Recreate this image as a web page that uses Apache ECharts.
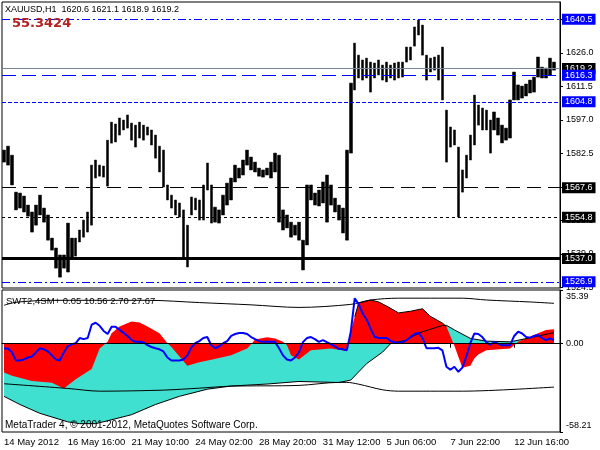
<!DOCTYPE html>
<html><head><meta charset="utf-8">
<script src="https://cdn.jsdelivr.net/npm/echarts@6/dist/echarts.min.js"></script>
<style>html,body{margin:0;padding:0;background:#fff}#c{width:600px;height:450px}</style>
</head><body><div id="c"></div>
<script>
// ---------- data ----------
const symbolName = 'XAUUSD,H1';
const lastOHLC = [1620.6, 1621.1, 1618.9, 1619.2];
const bigValue = '55.3424';
const indName = 'SWT2,4SM+';
const indParams = ['0.05', '10.56', '2.70', '27.67'];
const copyright = 'MetaTrader 4, \u00A9 2001-2012, MetaQuotes Software Corp.';
const timeLabels = ['14 May 2012', '16 May 16:00', '21 May 10:00', '24 May 02:00', '28 May 20:00',
  '31 May 12:00', '5 Jun 06:00', '7 Jun 22:00', '12 Jun 16:00'];
const barsPerLabel = 16;
const barCount = 140;
const priceTicks = [1524.5, 1539.0, 1553.5, 1568.0, 1582.5, 1597.0, 1611.5, 1626.0, 1640.5];
const bidPrice = 1619.2;
const levelValues = [1640.5, 1616.3, 1604.8, 1567.6, 1554.8, 1537.0, 1526.9];
const indTicks = [35.39, 0, -58.21];
const indTickLabels = ['35.39', '0.00', '-58.21'];

const highs = [
1583.9,1585.6,1581.7,1565.7,1565.3,1564.0,1560.1,1557.1,1560.1,1564.4,
1558.8,1555.8,1545.8,1541.5,1538.5,1538.5,1552.3,1545.8,1545.8,1549.3,
1553.6,1557.1,1577.4,1579.6,1577.4,1577.0,1588.2,1596.0,1595.2,1597.8,
1596.9,1599.1,1595.6,1594.7,1596.0,1594.7,1593.9,1592.6,1590.4,1585.6,
1583.9,1568.8,1564.4,1562.3,1561.0,1558.0,1551.4,1563.6,1563.1,1562.3,
1568.8,1578.3,1568.8,1559.2,1558.0,1564.4,1569.6,1571.8,1577.4,1576.1,
1579.6,1583.9,1580.9,1578.7,1576.1,1575.3,1576.1,1578.7,1582.6,1581.7,
1558.0,1555.8,1552.7,1551.4,1552.7,1544.9,1568.8,1568.8,1565.3,1566.6,
1570.1,1573.1,1568.8,1563.1,1560.1,1558.8,1583.9,1612.9,1630.2,1625.0,
1622.9,1623.7,1622.0,1621.6,1622.9,1620.7,1622.0,1620.7,1621.6,1622.0,
1622.0,1628.5,1628.5,1637.2,1640.2,1638.0,1625.0,1623.7,1624.2,1625.0,
1628.5,1601.2,1593.9,1592.6,1585.2,1575.3,1581.7,1590.4,1607.7,1603.4,
1602.1,1601.2,1596.9,1600.4,1597.8,1594.7,1593.4,1605.6,1617.7,1612.1,
1611.6,1612.5,1614.2,1615.5,1624.2,1619.8,1619.4,1623.7,1622.0];
const lows = [
1578.7,1577.4,1568.8,1558.0,1558.8,1557.1,1555.3,1548.4,1551.4,1555.8,
1552.7,1544.9,1540.6,1532.8,1528.9,1532.8,1531.1,1537.2,1538.0,1544.1,
1546.2,1548.4,1551.4,1571.8,1572.6,1572.2,1568.3,1586.9,1587.4,1590.4,
1592.6,1593.4,1588.2,1585.2,1589.1,1588.2,1590.4,1586.1,1580.4,1574.4,
1567.9,1562.3,1558.8,1555.8,1554.9,1537.6,1533.3,1555.8,1558.0,1553.6,
1553.6,1566.6,1552.3,1552.7,1552.3,1555.8,1560.1,1562.3,1570.1,1571.8,
1573.1,1577.4,1575.3,1574.4,1572.6,1572.2,1573.1,1571.8,1574.4,1552.7,
1549.3,1550.2,1546.2,1547.1,1544.9,1532.0,1542.8,1562.3,1560.1,1559.7,
1561.0,1552.7,1560.1,1557.1,1553.6,1548.0,1544.9,1582.6,1609.9,1615.1,
1614.2,1615.1,1609.0,1615.1,1616.4,1614.2,1613.4,1615.1,1614.2,1615.1,
1615.5,1622.0,1622.9,1628.9,1633.7,1625.0,1614.2,1617.7,1618.5,1614.2,
1605.6,1578.7,1585.2,1586.1,1554.9,1565.7,1571.8,1579.6,1586.1,1594.7,
1592.6,1592.6,1582.6,1592.6,1590.4,1587.0,1588.2,1589.1,1605.6,1605.6,
1606.4,1607.3,1608.6,1609.0,1615.5,1615.1,1615.1,1616.4,1618.5];

// indicator: [bar index, value]
const turquoiseVals = [[0,-34.7],[4,-40.1],[9,-45.9],[16,-51.5],[19,-52.7],[23,-52.7],[26,-50.8],
  [32,-46.8],[38,-40.1],[44,-34.7],[51,-30.0],[57,-27.9],[66,-26.6],[74,-24.9],[84,-25.6],[87,-24.0],
  [91,-13.1],[95,-5.5],[97,0],[101,2.4],[103,5.5],[105,7.9],[110,12.0],[111,12.1],[113,9.1],
  [117,3.5],[121,1.7],[127,1.2],[132,3.9],[138,7.3]];
const redVals = [[0,-19.0],[2,-21.2],[7,-24.6],[12,-25.7],[15,-29.5],[18,-23.4],[22,-16.7],[24,-3.2],
  [26,1.2],[27,6.9],[29,11.3],[32,14.7],[34,14.0],[36,11.3],[39,6.9],[41,0.3],[42,-2.2],[46,-14.5],
  [49,-12.3],[52,-10.6],[57,-7.7],[61,-3.2],[62,-0.3],[63,2.8],[66,4.2],[68,3.5],[70,1.2],[71,-1.0],
  [72,-7.7],[74,-10.4],[77,-4.4],[82,-3.2],[86,-4.8],[87,8.4],[88,17.8],[89,26.8],[92,28.8],[94,27.5],
  [96,24.8],[99,20.3],[102,21.4],[105,23.0],[107,18.0],[110,13.6],[111,11.3],[113,-1.3],[115,-15.8],
  [117,-14.5],[118,-9.8],[119,-7.1],[121,-4.4],[127,-3.2],[128,-1.0],[129,1.2],[132,4.6],[134,6.9],
  [136,9.1],[138,9.6]];
const upperBand = [[0,25.3],[3,27.3],[12,28.6],[24,28.6],[36,28.6],[49,27.1],[62,25.6],[74,23.9],
  [87,25.9],[92,28.8],[99,30.0],[115,30.0],[121,28.8],[132,27.5],[138,26.6]];
const lowerBand = [[0,-26.4],[16,-29.5],[24,-31.3],[40,-30.6],[49,-29.3],[57,-28.0],[74,-27.5],
  [84,-25.5],[86,-25.5],[89,-26.7],[95,-30.4],[99,-31.3],[115,-31.3],[138,-28.6]];
const blueVals = [
-3.2,-3.2,-5.7,-11.1,-11.1,-10.4,-9.1,-8.4,-5.7,-3.0,
-3.7,-5.1,-7.7,-10.4,-11.1,-5.7,-1.7,-0.3,0.3,3.7,
3.0,3.7,12.5,13.8,11.8,8.4,6.4,11.1,11.1,9.1,
7.1,5.1,2.4,1.2,1.2,1.0,-1.0,-2.2,-3.0,-3.7,
-5.1,-9.1,-11.1,-11.1,-11.1,-10.4,-7.7,-2.4,0.3,1.7,
3.7,4.4,-1.0,-3.0,-1.7,0.3,1.7,5.1,6.4,7.1,
7.1,6.4,4.4,3.0,1.7,1.2,1.2,1.2,1.2,-3.0,
-7.7,-10.4,-11.1,-9.1,-5.7,1.0,3.7,4.4,3.0,1.2,
2.4,1.0,-0.3,-1.7,-3.4,-3.7,-4.4,7.7,30.0,25.9,
19.9,15.8,9.8,4.4,3.7,3.7,3.7,1.7,1.0,0.7,
1.0,2.4,4.4,6.4,7.1,3.7,-3.0,-3.0,-3.0,-2.7,
-4.4,-15.2,-17.2,-15.2,-18.5,-15.8,-8.4,0.3,6.7,6.4,
4.4,1.0,-0.7,1.0,0,-1.0,-1.0,-1.0,5.1,7.9,
6.7,4.4,4.0,5.1,5.7,3.7,2.4,3.4,2.4];

// ---------- chart ----------
const FONT = 'Liberation Sans, Arial, sans-serif';
const categories = Array.from({length: barCount}, (_, i) => 'b' + i);
const candleData = lows.map((l, i) => [l, highs[i], l, highs[i]]);
const redOutlined = redVals.filter(p => p[0] >= 88 && p[0] <= 111);
const BLUE = '#0000FF';
const levelStyles = [
  {color: BLUE, type: [8,3,2,3], width: 1},
  {color: BLUE, type: [14,6], width: 1},
  {color: BLUE, type: [4,2], width: 1},
  {color: '#000', type: [14,7], width: 1},
  {color: '#000', type: [3,3], width: 1},
  {color: '#000', type: 'solid', width: 3},
  {color: BLUE, type: [8,3,2,3], width: 1}
];
const lbl = (bg) => ({show: true, position: 'end', distance: 2, color: '#fff', backgroundColor: bg,
  padding: [1,3,1,3], fontSize: 9, fontFamily: FONT, formatter: p => Number(p.value).toFixed(1)});
const markData = [{yAxis: bidPrice, lineStyle: {color: '#778899', type: 'solid', width: 1}, label: lbl('#000')}]
  .concat(levelValues.map((v, i) => ({yAxis: v, lineStyle: levelStyles[i], label: lbl(levelStyles[i].color)})));

const chart = echarts.init(document.getElementById('c'), null, {renderer: 'canvas'});
chart.setOption({
  animation: false,
  backgroundColor: '#fff',
  textStyle: {fontFamily: FONT},
  grid: [
    {left: 2, right: 40, top: 2, height: 286, show: true, borderColor: '#000', borderWidth: 1},
    {left: 2, right: 40, top: 290, height: 142, show: true, borderColor: '#000', borderWidth: 1}
  ],
  xAxis: [
    {type: 'category', gridIndex: 0, data: categories, show: false, boundaryGap: true},
    {type: 'category', gridIndex: 1, data: categories, boundaryGap: true,
      axisLine: {show: true, lineStyle: {color: '#000'}},
      axisTick: {show: true, interval: barsPerLabel - 1, alignWithLabel: true, length: 4, lineStyle: {color: '#000'}},
      axisLabel: {show: true, interval: barsPerLabel - 1, align: 'left', margin: 5, fontSize: 9.5, color: '#000',
        fontFamily: FONT, formatter: (v, idx) => timeLabels[idx / barsPerLabel] || ''},
      splitLine: {show: false}}
  ],
  yAxis: [
    {type: 'value', gridIndex: 0, position: 'right', min: 1524.2, max: 1648.0, scale: true,
      axisLine: {show: true, lineStyle: {color: '#000'}},
      axisTick: {show: true, length: 3, customValues: priceTicks, lineStyle: {color: '#000'}},
      axisLabel: {show: true, customValues: priceTicks, margin: 6, fontSize: 9, color: '#000', fontFamily: FONT,
        formatter: v => Number(v).toFixed(1)},
      splitLine: {show: false}},
    {type: 'value', gridIndex: 1, position: 'right', min: -58.21, max: 35.39,
      axisLine: {show: true, lineStyle: {color: '#000'}},
      axisTick: {show: true, length: 3, customValues: indTicks, lineStyle: {color: '#000'}},
      axisLabel: {show: true, customValues: indTicks, margin: 6, fontSize: 9, color: '#000', fontFamily: FONT,
        formatter: v => {
          const i = indTicks.findIndex(t => Math.abs(t - v) < 1e-6);
          if (i === 0) return '{t|' + indTickLabels[0] + '}';
          if (i === indTicks.length - 1) return '{b|' + indTickLabels[i] + '}';
          return i >= 0 ? indTickLabels[i] : '';
        },
        rich: {t: {padding: [13,0,0,0], fontSize: 9, fontFamily: FONT, color: '#000'},
               b: {padding: [0,0,12,0], fontSize: 9, fontFamily: FONT, color: '#000'}}},
      splitLine: {show: false}}
  ],
  series: [
    {type: 'candlestick', xAxisIndex: 0, yAxisIndex: 0, data: candleData, barWidth: 3, z: 3,
      itemStyle: {color: '#000', color0: '#000', borderColor: '#000', borderColor0: '#000', borderWidth: 0.5},
      markLine: {symbol: ['none','none'], silent: true, animation: false, data: markData}},
    {type: 'line', xAxisIndex: 1, yAxisIndex: 1, data: turquoiseVals, symbol: 'none', z: 1,
      lineStyle: {width: 0}, areaStyle: {color: '#40E0D0', opacity: 1}},
    {type: 'line', xAxisIndex: 1, yAxisIndex: 1, data: redVals, symbol: 'none', z: 2,
      lineStyle: {width: 0}, areaStyle: {color: '#FF0000', opacity: 1}},
    {type: 'line', xAxisIndex: 1, yAxisIndex: 1, data: redOutlined, symbol: 'none', z: 3,
      lineStyle: {width: 1, color: '#000'}},
    {type: 'line', xAxisIndex: 1, yAxisIndex: 1, data: turquoiseVals, symbol: 'none', z: 3,
      lineStyle: {width: 1, color: '#000'},
      markLine: {symbol: ['none','none'], silent: true, label: {show: false},
        lineStyle: {color: '#000', type: 'solid', width: 1}, data: [{yAxis: 0}]}},
    {type: 'line', xAxisIndex: 1, yAxisIndex: 1, data: upperBand, symbol: 'none', smooth: 0.3, z: 3,
      lineStyle: {width: 1, color: '#000'}},
    {type: 'line', xAxisIndex: 1, yAxisIndex: 1, data: lowerBand, symbol: 'none', smooth: 0.3, z: 3,
      lineStyle: {width: 1, color: '#000'}},
    {type: 'line', xAxisIndex: 1, yAxisIndex: 1, data: blueVals, symbol: 'none', z: 4,
      lineStyle: {width: 2, color: BLUE}}
  ],
  graphic: [
    {type: 'text', left: 5, top: 5, z: 100, style: {text: symbolName + '  ' + lastOHLC.map(v => v.toFixed(1)).join(' '),
      font: '9px ' + FONT, fill: '#000'}},
    {type: 'text', left: 12, top: 17, z: 100, style: {text: bigValue, font: 'bold 13px DejaVu Sans', fill: '#B22222'}},
    {type: 'text', left: 6, top: 296, z: 100, style: {text: indName + ' ' + indParams.join(' '),
      font: '9.5px ' + FONT, fill: '#000'}},
    {type: 'text', left: 5, top: 420, z: 100, style: {text: copyright, font: '10px ' + FONT, fill: '#000'}}
  ]
});
</script></body></html>
